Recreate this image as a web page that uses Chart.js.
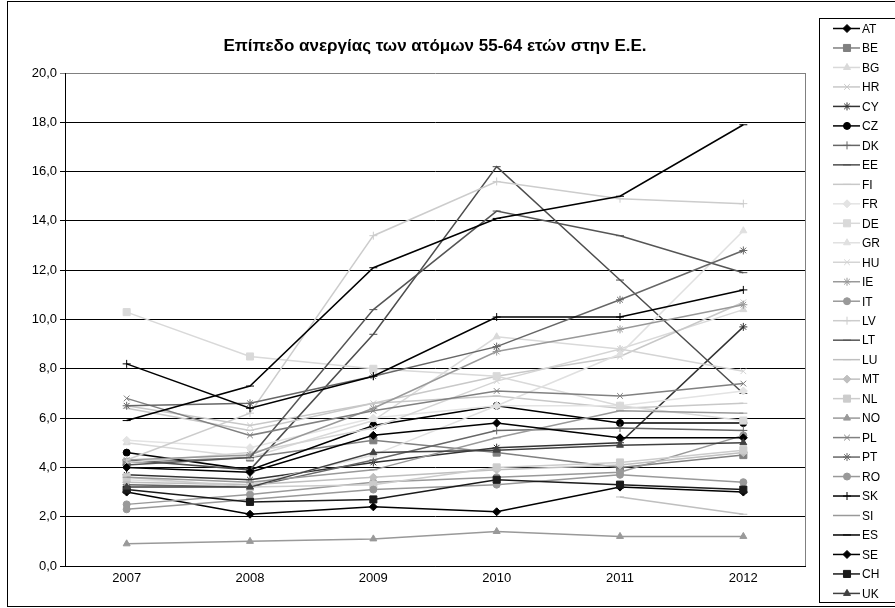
<!DOCTYPE html>
<html>
<head>
<meta charset="utf-8">
<script src="https://cdn.jsdelivr.net/npm/chart.js@4.4.1/dist/chart.umd.min.js"></script>
<style>
    html, body { margin: 0; padding: 0; background: #fff; }
    #wrap { width: 895px; height: 608px; }
</style>
</head>
<body>
<div id="wrap"><canvas id="my_chart" width="895" height="608"></canvas></div>
<script>
const years = ['2007', '2008', '2009', '2010', '2011', '2012'];
const title_text = 'Επίπεδο ανεργίας των ατόμων 55-64 ετών στην Ε.Ε.';

// unemployment rate 55-64 (%)
const AT = [3.0, 2.1, 2.4, 2.2, 3.2, 3.0];
const BE = [4.2, 4.4, 5.1, 4.6, 4.0, 4.5];
const BG = [5.0, 4.4, 5.9, 9.3, 8.8, 10.4];
const HR = [6.5, 5.7, 6.6, 7.7, 8.5, 10.7];
const CY = [3.7, 3.5, 4.2, 4.8, 5.0, 9.7];
const CZ = [4.6, 3.9, 5.7, 6.5, 5.8, 5.8];
const DK = [3.3, 3.2, 4.3, 5.5, 5.6, 5.5];
const EE = [4.3, 3.9, 9.4, 16.2, 11.6, 7.0];
const FI = [6.4, 5.5, 6.6, 6.9, 6.4, 6.6];
const FR = [5.1, 4.8, 6.0, 6.5, 6.5, 7.1];
const DE = [10.3, 8.5, 8.0, 7.7, 6.5, 5.9];
const GR = [3.5, 3.3, 4.5, 6.5, 8.6, 13.6];
const HU = [4.2, 4.6, 5.6, 7.5, 8.8, 7.9];
const IE = [4.3, 4.5, 6.4, 8.7, 9.6, 10.6];
const IT = [2.5, 2.9, 3.4, 3.6, 3.8, 5.3];
const LV = [4.3, 6.2, 13.4, 15.6, 14.9, 14.7];
const LT = [4.1, 4.4, 10.4, 14.4, 13.4, 11.9];
const LU = [null, null, null, null, 2.8, 2.1];
const MT = [3.4, 3.3, 3.6, 3.9, 4.1, 4.6];
const NL = [3.6, 3.2, 3.3, 4.0, 4.2, 4.7];
const NO = [0.9, 1.0, 1.1, 1.4, 1.2, 1.2];
const PL = [6.8, 5.3, 6.3, 7.1, 6.9, 7.4];
const PT = [6.5, 6.6, 7.7, 8.9, 10.8, 12.8];
const RO = [2.3, 2.7, 3.1, 3.3, 3.7, 3.4];
const SK = [8.2, 6.4, 7.7, 10.1, 10.1, 11.2];
const SI = [3.6, 3.4, 3.9, 5.2, 6.3, 6.2];
const ES = [5.9, 7.3, 12.1, 14.1, 15.0, 17.9];
const SE = [4.0, 3.8, 5.3, 5.8, 5.2, 5.2];
const CH = [3.1, 2.6, 2.7, 3.5, 3.3, 3.1];
const UK = [3.2, 3.2, 4.6, 4.7, 4.9, 5.0];

// label, values, colour, marker
const series = [
    ['AT', AT, '#000000', 'rectRot'],
    ['BE', BE, '#808080', 'rect'],
    ['BG', BG, '#d9d9d9', 'triangle'],
    ['HR', HR, '#c8c8c8', 'crossRot'],
    ['CY', CY, '#333333', 'star'],
    ['CZ', CZ, '#000000', 'circle'],
    ['DK', DK, '#666666', 'cross'],
    ['EE', EE, '#4d4d4d', 'line'],
    ['FI', FI, '#c8c8c8', 'line'],
    ['FR', FR, '#e3e3e3', 'rectRot'],
    ['DE', DE, '#d9d9d9', 'rect'],
    ['GR', GR, '#e0e0e0', 'triangle'],
    ['HU', HU, '#d4d4d4', 'crossRot'],
    ['IE', IE, '#999999', 'star'],
    ['IT', IT, '#999999', 'circle'],
    ['LV', LV, '#cccccc', 'cross'],
    ['LT', LT, '#555555', 'line'],
    ['LU', LU, '#bfbfbf', 'line'],
    ['MT', MT, '#bfbfbf', 'rectRot'],
    ['NL', NL, '#cccccc', 'rect'],
    ['NO', NO, '#999999', 'triangle'],
    ['PL', PL, '#808080', 'crossRot'],
    ['PT', PT, '#666666', 'star'],
    ['RO', RO, '#999999', 'circle'],
    ['SK', SK, '#000000', 'cross'],
    ['SI', SI, '#999999', 'line'],
    ['ES', ES, '#000000', 'line'],
    ['SE', SE, '#000000', 'rectRot'],
    ['CH', CH, '#1a1a1a', 'rect'],
    ['UK', UK, '#404040', 'triangle']
];

function marker_radius(style) {
    if (style === 'rect') return 5;
    if (style === 'circle') return 3.5;
    return 4;
}

const datasets = series.map((s, i) => ({
    label: s[0],
    data: s[1],
    borderColor: s[2],
    backgroundColor: s[2],
    pointBackgroundColor: s[2],
    pointBorderColor: s[2],
    pointStyle: s[3],
    pointRadius: marker_radius(s[3]),
    pointBorderWidth: 1,
    borderWidth: 1.5,
    tension: 0,
    order: series.length - i
}));

const font_family = "Arial, 'Liberation Sans', sans-serif";

const extras = {
    id: 'extras',
    beforeDraw(chart) {
        const ctx = chart.ctx;
        ctx.save();
        ctx.fillStyle = '#fff';
        ctx.fillRect(0, 0, chart.width, chart.height);
        ctx.strokeStyle = '#000';
        ctx.lineWidth = 1;
        ctx.strokeRect(7.5, 1.5, 900, 605);
        ctx.restore();
    },
    beforeDatasetsDraw(chart) {
        const ctx = chart.ctx;
        const a = chart.chartArea;
        ctx.save();
        ctx.strokeStyle = '#808080';
        ctx.lineWidth = 1;
        ctx.beginPath();
        ctx.moveTo(Math.round(a.right) + 0.5, a.top);
        ctx.lineTo(Math.round(a.right) + 0.5, a.bottom);
        ctx.stroke();
        ctx.restore();
    },
    afterDraw(chart) {
        const ctx = chart.ctx;
        const a = chart.chartArea;
        ctx.save();
        // title
        ctx.fillStyle = '#000';
        ctx.font = 'bold 17px ' + font_family;
        ctx.textAlign = 'center';
        ctx.textBaseline = 'middle';
        ctx.fillText(title_text, (a.left + a.right) / 2, 46);

        // legend box
        ctx.fillStyle = '#fff';
        ctx.fillRect(819.5, 18.5, 80, 584);
        ctx.strokeStyle = '#000';
        ctx.lineWidth = 1;
        ctx.strokeRect(819.5, 18.5, 80, 584);

        ctx.font = '12px ' + font_family;
        ctx.textAlign = 'left';
        chart.data.datasets.forEach((ds, i) => {
            const y = 28.5 + i * 19.48;
            ctx.strokeStyle = ds.borderColor;
            ctx.lineWidth = 1.5;
            ctx.beginPath();
            ctx.moveTo(833, y);
            ctx.lineTo(860, y);
            ctx.stroke();
            ctx.fillStyle = ds.pointBackgroundColor;
            ctx.strokeStyle = ds.pointBorderColor;
            ctx.lineWidth = 1;
            if (Chart.helpers && Chart.helpers.drawPoint) {
                Chart.helpers.drawPoint(ctx, {
                    pointStyle: ds.pointStyle,
                    radius: ds.pointRadius,
                    rotation: 0,
                    borderWidth: 1
                }, 847, y);
            }
            ctx.fillStyle = '#000';
            ctx.fillText(ds.label, 862, y + 1);
        });
        ctx.restore();
    }
};

const canvas = document.getElementById('my_chart');

let chart = new Chart(canvas, {
    type: 'line',
    data: {
        labels: years,
        datasets: datasets
    },
    options: {
        responsive: false,
        animation: false,
        events: [],
        layout: {
            padding: { left: 10, right: 90, top: 73, bottom: 22 }
        },
        plugins: {
            legend: { display: false },
            tooltip: { enabled: false },
            title: { display: false }
        },
        scales: {
            x: {
                offset: true,
                afterFit: (s) => { s.height = 20; },
                grid: { display: false, offset: true, drawTicks: false },
                border: { display: true, color: '#000', width: 1 },
                ticks: {
                    color: '#000',
                    font: { family: font_family, size: 13 },
                    padding: 5,
                    maxRotation: 0
                }
            },
            y: {
                min: 0,
                max: 20,
                afterFit: (s) => { s.width = 55; },
                grid: {
                    color: (c) => (c.tick && c.tick.value === 20 ? '#808080' : '#000'),
                    lineWidth: 1,
                    tickLength: 5,
                    drawTicks: true
                },
                border: { display: true, color: '#000', width: 1 },
                ticks: {
                    stepSize: 2,
                    color: '#000',
                    font: { family: font_family, size: 13 },
                    padding: 3,
                    callback: (v) => v.toFixed(1).replace('.', ',')
                }
            }
        }
    },
    plugins: [extras]
});
</script>
</body>
</html>
